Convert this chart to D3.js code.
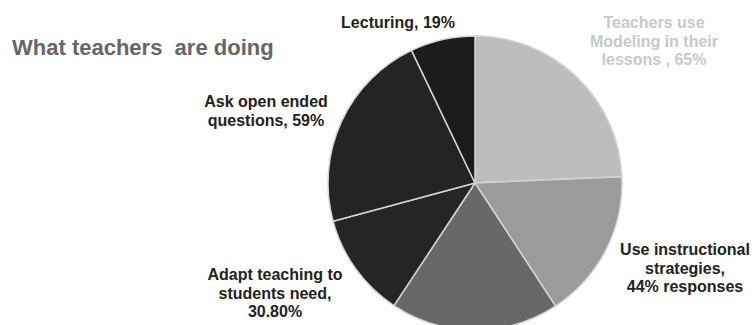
<!DOCTYPE html>
<html>
<head>
<meta charset="utf-8">
<script src="https://cdnjs.cloudflare.com/ajax/libs/d3/7.8.5/d3.min.js"></script>
<style>
    body { margin: 0; background: #fff; }
    svg { display: block; font-family: "Liberation Sans", Arial, sans-serif; }
</style>
</head>
<body>
<div id="chart"></div>
<script>
// slice data, clockwise from 12 o'clock
var categories = ["Modeling", "Instructional strategies", "Other", "Adapt teaching", "Open ended questions", "Lecturing"];
var values = [65, 44, 49.5, 30.8, 59, 19];
var labelLines = [
    ["Teachers use", "Modeling in their", "lessons , 65%"],
    ["Use instructional", "strategies,", "44% responses"],
    [],
    ["Adapt teaching to", "students need,", "30.80%"],
    ["Ask open ended", "questions, 59%"],
    ["Lecturing, 19%"]
];
var title = "What teachers  are doing";

// layout
var width = 755, height = 325;
var cx = 475, cy = 183, radius = 147;
var sliceColors = ["#bdbdbd", "#9b9b9b", "#686868", "#252525", "#242424", "#1c1c1c"];
var labelColors = ["#c9c9c9", "#222", "#222", "#222", "#222", "#222"];
// first baseline of each label, relative to pie centre
var labelAnchors = [[179, -155], [210, 72], [0, 0], [-200, 97], [-209, -76], [-77, -155]];
var lineHeight = 18.5;

var svg = d3.select("#chart").append("svg")
    .attr("width", width)
    .attr("height", height);

svg.append("text")
    .attr("x", 12)
    .attr("y", 55)
    .attr("fill", "#666")
    .attr("font-size", 22)
    .attr("font-weight", "bold")
    .style("white-space", "pre")
    .text(title);

var pie = d3.pie()
    .sort(null)
    .value(function (d) { return d; });

var arc = d3.arc()
    .innerRadius(0)
    .outerRadius(radius);

var g = svg.append("g")
    .attr("transform", "translate(" + cx + "," + cy + ")");

g.selectAll("path")
    .data(pie(values))
    .enter().append("path")
    .attr("d", arc)
    .attr("fill", function (d, i) { return sliceColors[i]; })
    .attr("stroke", "#d4d4d4")
    .attr("stroke-width", 1.5)
    .attr("stroke-linejoin", "round");

// labels
var labels = g.selectAll("text.lbl")
    .data(labelLines)
    .enter().append("text")
    .attr("class", "lbl")
    .attr("text-anchor", "middle")
    .attr("font-size", 16)
    .attr("font-weight", "bold")
    .attr("fill", function (d, i) { return labelColors[i]; })
    .attr("transform", function (d, i) {
        return "translate(" + labelAnchors[i][0] + "," + labelAnchors[i][1] + ")";
    });

labels.selectAll("tspan")
    .data(function (d) { return d; })
    .enter().append("tspan")
    .attr("x", 0)
    .attr("y", function (d, j) { return j * lineHeight; })
    .text(function (d) { return d; });
</script>
</body>
</html>
